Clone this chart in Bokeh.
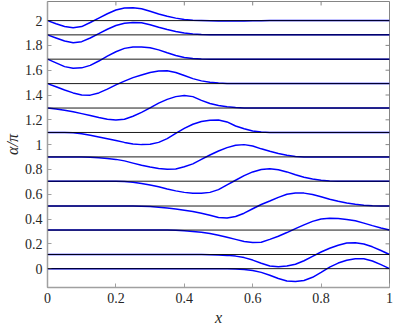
from bokeh.plotting import figure
from bokeh.models import Range1d, FixedTicker, Span
from bokeh.embed import file_html
from bokeh.resources import INLINE

# ---------------- data ----------------
x_grid = [0.000, 0.025, 0.050, 0.075, 0.100, 0.125, 0.150, 0.175, 0.200, 0.225,
          0.250, 0.275, 0.300, 0.325, 0.350, 0.375, 0.400, 0.425, 0.450, 0.475,
          0.500, 0.525, 0.550, 0.575, 0.600, 0.625, 0.650, 0.675, 0.700, 0.725,
          0.750, 0.775, 0.800, 0.825, 0.850, 0.875, 0.900, 0.925, 0.950, 0.975,
          1.000]

# reference levels (alpha/pi) of the black horizontal lines
alpha_levels = [0.000, 0.114, 0.311, 0.505, 0.705, 0.901,
                1.098, 1.295, 1.492, 1.689, 1.885, 2.000]

# deviation of each blue curve from its level, sampled on x_grid
dev_01 = [0, 0, 0, 0, 0, 0, 0, 0, 0, 0,
          0, 0, 0, 0, 0, 0, 0, 0, 0, 0,
          0, -0.001, -0.003, -0.007, -0.015, -0.030, -0.053, -0.080, -0.100, -0.103,
          -0.095, -0.070, -0.030, 0.012, 0.045, 0.068, 0.080, 0.079, 0.062, 0.032,
          0]
dev_02 = [0, 0, 0, 0, 0, 0, 0, 0, 0, 0,
          0, 0, 0, 0, 0, 0, 0, 0, 0, -0.001,
          -0.003, -0.007, -0.013, -0.025, -0.045, -0.070, -0.093, -0.098, -0.093, -0.078,
          -0.050, -0.015, 0.020, 0.050, 0.075, 0.092, 0.095, 0.085, 0.062, 0.032,
          0]
dev_03 = [0, 0, 0, 0, 0, 0, 0, 0, 0, 0,
          0, 0, 0, 0, 0, -0.002, -0.006, -0.011, -0.017, -0.027,
          -0.042, -0.058, -0.075, -0.092, -0.100, -0.098, -0.075, -0.050, -0.020, 0.012,
          0.042, 0.070, 0.090, 0.096, 0.094, 0.086, 0.075, 0.056, 0.036, 0.017,
          0]
dev_04 = [0, 0, 0, 0, 0, 0, 0, 0, 0, 0,
          0, -0.001, -0.004, -0.009, -0.016, -0.025, -0.035, -0.045, -0.058, -0.075,
          -0.093, -0.097, -0.085, -0.058, -0.022, 0.012, 0.040, 0.070, 0.095, 0.105,
          0.104, 0.093, 0.075, 0.055, 0.038, 0.025, 0.015, 0.007, 0.002, 0,
          0]
dev_05 = [0, 0, 0, 0, 0, 0, 0, 0, 0, -0.002,
          -0.008, -0.018, -0.030, -0.045, -0.062, -0.078, -0.090, -0.097, -0.098, -0.090,
          -0.068, -0.030, 0.008, 0.045, 0.075, 0.095, 0.100, 0.093, 0.075, 0.052,
          0.032, 0.017, 0.007, 0.002, 0, 0, 0, 0, 0, 0,
          0]
dev_06 = [0, 0, 0, 0, 0, -0.002, -0.006, -0.012, -0.020, -0.032,
          -0.050, -0.068, -0.082, -0.093, -0.100, -0.097, -0.080, -0.056, -0.020, 0.015,
          0.048, 0.075, 0.094, 0.099, 0.088, 0.065, 0.045, 0.028, 0.014, 0.004,
          0, 0, 0, 0, 0, 0, 0, 0, 0, 0,
          0]
dev_07 = [0, 0, 0, -0.003, -0.010, -0.022, -0.036, -0.050, -0.065, -0.080,
          -0.093, -0.098, -0.095, -0.080, -0.050, -0.008, 0.033, 0.066, 0.088, 0.099,
          0.100, 0.085, 0.052, 0.030, 0.012, 0.004, 0, 0, 0, 0,
          0, 0, 0, 0, 0, 0, 0, 0, 0, 0,
          0]
dev_08 = [0, -0.008, -0.018, -0.030, -0.045, -0.060, -0.077, -0.090, -0.096, -0.090,
          -0.066, -0.035, 0.002, 0.040, 0.070, 0.092, 0.101, 0.092, 0.062, 0.036,
          0.020, 0.010, 0.004, 0, 0, 0, 0, 0, 0, 0,
          0, 0, 0, 0, 0, 0, 0, 0, 0, 0,
          0]
dev_09 = [0, -0.025, -0.052, -0.075, -0.092, -0.093, -0.075, -0.045, -0.010, 0.020,
          0.048, 0.070, 0.090, 0.102, 0.103, 0.090, 0.065, 0.040, 0.022, 0.010,
          0.004, 0.001, 0, 0, 0, 0, 0, 0, 0, 0,
          0, 0, 0, 0, 0, 0, 0, 0, 0, 0,
          0]
dev_10 = [0, -0.030, -0.060, -0.074, -0.070, -0.050, -0.015, 0.025, 0.060, 0.087,
          0.099, 0.099, 0.092, 0.075, 0.052, 0.030, 0.013, 0.005, 0.002, 0,
          0, 0, 0, 0, 0, 0, 0, 0, 0, 0,
          0, 0, 0, 0, 0, 0, 0, 0, 0, 0,
          0]
dev_11 = [0, -0.025, -0.050, -0.063, -0.055, -0.025, 0.010, 0.045, 0.075, 0.094,
          0.100, 0.097, 0.082, 0.062, 0.043, 0.027, 0.015, 0.007, 0.002, 0,
          0, 0, 0, 0, 0, 0, 0, 0, 0, 0,
          0, 0, 0, 0, 0, 0, 0, 0, 0, 0,
          0]
dev_12 = [0, -0.025, -0.048, -0.058, -0.048, -0.015, 0.020, 0.055, 0.085, 0.102,
          0.104, 0.095, 0.075, 0.053, 0.035, 0.020, 0.008, 0.002, 0, -0.002,
          -0.004, -0.004, -0.004, -0.003, -0.002, -0.001, 0, 0, 0, 0,
          0, 0, 0, 0, 0, 0, 0, 0, 0, 0,
          0]

curve_devs = [dev_01, dev_02, dev_03, dev_04, dev_05, dev_06,
              dev_07, dev_08, dev_09, dev_10, dev_11, dev_12]

x_ticks = [0, 0.2, 0.4, 0.6, 0.8, 1]
x_tick_labels = ["0", "0.2", "0.4", "0.6", "0.8", "1"]
y_ticks = [0, 0.2, 0.4, 0.6, 0.8, 1, 1.2, 1.4, 1.6, 1.8, 2]
y_tick_labels = ["0", "0.2", "0.4", "0.6", "0.8", "1", "1.2", "1.4", "1.6", "1.8", "2"]

x_label = "x"
y_label = "α/π"

X_MIN, X_MAX = 0.0, 1.0
Y_MIN, Y_MAX = -0.152, 2.154

# ---------------- figure ----------------
FONT = "serif"
AX_COL = "#a0a0a0"
BOX_COL = "#858585"
TXT_COL = "#262626"

FRAME_W = 345
FRAME_H = 289

p = figure(width=395, height=328, output_backend="svg", toolbar_location=None,
           x_range=Range1d(X_MIN, X_MAX), y_range=Range1d(Y_MIN, Y_MAX),
           min_border_left=44, min_border_right=6, min_border_top=1,
           min_border_bottom=38)
p.outline_line_color = BOX_COL
p.outline_line_width = 1
p.background_fill_color = "white"
p.border_fill_color = "white"
p.xgrid.visible = False
p.ygrid.visible = False

for ax, ticks, labels in ((p.xaxis[0], x_ticks, x_tick_labels),
                          (p.yaxis[0], y_ticks, y_tick_labels)):
    ax.ticker = FixedTicker(ticks=ticks)
    ax.major_label_overrides = {t: s for t, s in zip(ticks, labels)}
    ax.major_tick_in = 4
    ax.major_tick_out = 0
    ax.minor_tick_line_color = None
    ax.axis_line_color = AX_COL
    ax.axis_line_width = 1.5
    ax.major_tick_line_color = AX_COL
    ax.major_tick_line_width = 1
    ax.major_label_text_font = FONT
    ax.major_label_text_font_size = "14px"
    ax.major_label_text_color = TXT_COL
    ax.major_label_standoff = 5
    ax.axis_label_text_font = FONT
    ax.axis_label_text_font_style = "italic"
    ax.axis_label_text_font_size = "16px"
    ax.axis_label_text_color = TXT_COL

p.xaxis.axis_label = x_label
p.xaxis.axis_label_standoff = 3
p.yaxis.axis_label = y_label
p.yaxis.axis_label_standoff = 1

# inward ticks on the right and top edges of the box (from the tick lists)
tick_dx = 4.0 * (X_MAX - X_MIN) / FRAME_W
tick_dy = 4.0 * (Y_MAX - Y_MIN) / FRAME_H
p.segment(x0=[X_MAX] * len(y_ticks), y0=y_ticks,
          x1=[X_MAX - tick_dx] * len(y_ticks), y1=y_ticks,
          line_color=BOX_COL, line_width=1)
p.segment(x0=x_ticks, y0=[Y_MAX] * len(x_ticks),
          x1=x_ticks, y1=[Y_MAX - tick_dy] * len(x_ticks),
          line_color=BOX_COL, line_width=1)

for lvl in alpha_levels:
    p.add_layout(Span(location=lvl, dimension="width", line_color="black",
                      line_width=0.9))

for lvl, dev in zip(alpha_levels, curve_devs):
    p.line(x_grid, [lvl + d for d in dev], line_color="#0000ff", line_width=1.5)

open("out.html", "w").write(file_html(p, INLINE))
